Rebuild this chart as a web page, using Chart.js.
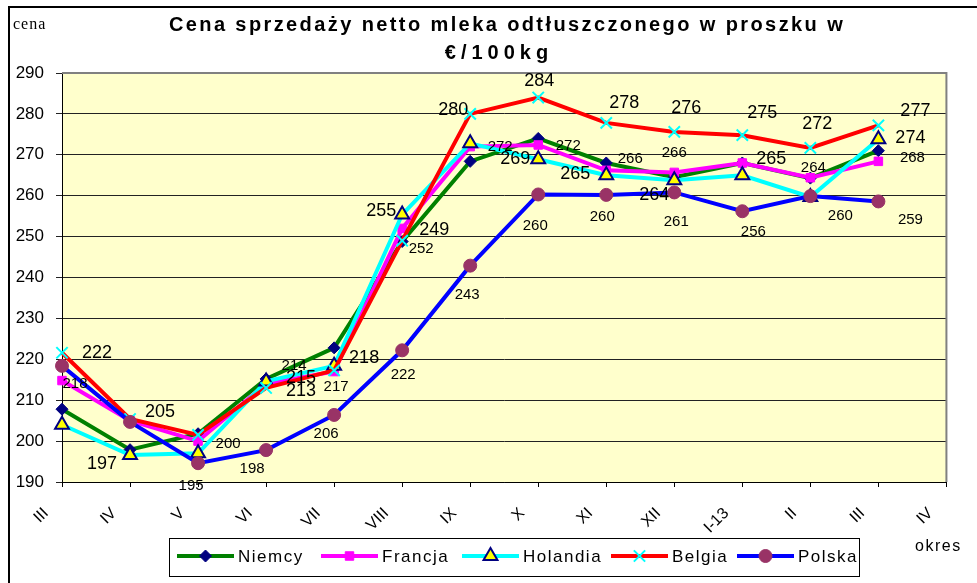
<!DOCTYPE html>
<html>
<head>
<meta charset="utf-8">
<script src="https://cdn.jsdelivr.net/npm/chart.js@4.4.0/dist/chart.umd.min.js"></script>
<style>
  html, body { margin: 0; padding: 0; background: #fff; }
  #wrap { width: 977px; height: 583px; position: relative; }
</style>
</head>
<body>
<div id="wrap"><canvas id="wykres"></canvas></div>
<script>
var okresy   = ['III', 'IV', 'V', 'VI', 'VII', 'VIII', 'IX', 'X', 'XI', 'XII', 'I-13', 'II', 'III', 'IV'];
var niemcy   = [207.8, 197.9, 201.8, 215.2, 222.8, 248.8, 268.4, 274.0, 268.0, 264.5, 268.0, 264.3, 271.0];
var francja  = [214.8, 205.0, 200.0, 214.0, 217.0, 252.0, 272.0, 272.4, 266.2, 265.7, 268.0, 264.4, 268.4];
var holandia = [204.0, 196.6, 197.0, 214.6, 218.4, 255.4, 272.8, 268.9, 265.0, 263.8, 265.0, 259.7, 273.8];
var belgia   = [221.6, 205.4, 201.5, 213.0, 217.3, 249.0, 280.0, 284.0, 277.8, 275.6, 274.8, 271.7, 277.2];
var polska   = [218.4, 204.7, 194.6, 197.8, 206.4, 222.2, 242.9, 260.3, 260.2, 260.8, 256.2, 259.9, 258.6];

var tytul = ['Cena sprzedaży netto mleka odtłuszczonego w proszku w', '€/100kg'];
var FONT = '"Liberation Sans", Arial, sans-serif';

// which values get a label: [series, point, dx, dy, big font]
var etykiety = [
    [3, 0, 35, 0, 1], [3, 1, 30, -7, 1], [3, 3, 35, 3, 1], [3, 5, 32, -11, 1], [3, 6, -17, -4, 1],
    [3, 7, 1, -17, 1], [3, 8, 18, -20, 1], [3, 9, 12, -24, 1], [3, 10, 20, -22, 1], [3, 11, 7, -24, 1],
    [3, 12, 37, -14, 1],
    [2, 1, -28, 9, 1], [2, 3, 35, -3, 1], [2, 4, 30, -8, 1], [2, 5, -21, -3, 1], [2, 7, -23, 0, 1],
    [2, 8, -31, -1, 1], [2, 9, -20, 15, 1], [2, 10, 29, -16, 1], [2, 12, 32, -1, 1],
    [1, 2, 30, 3, 0], [1, 3, 28, -18, 0], [1, 4, 2, 15, 0], [1, 5, 19, 20, 0], [1, 6, 30, 0, 0],
    [1, 7, 30, 1, 0], [1, 8, 24, -11, 0], [1, 9, 0, -20, 0], [1, 11, 3, -10, 0], [1, 12, 34, -3, 0],
    [4, 0, 13, 18, 0], [4, 2, -7, 23, 0], [4, 3, -14, 19, 0], [4, 4, -8, 19, 0], [4, 5, 1, 25, 0],
    [4, 6, -3, 29, 0], [4, 7, -3, 31, 0], [4, 8, -4, 22, 0], [4, 9, 2, 29, 0], [4, 10, 11, 21, 0],
    [4, 11, 30, 20, 0], [4, 12, 32, 18, 0]
];

var legendaX = [177, 321, 462, 611, 737];

function seria(nazwa, dane, linia, styl, r, wypelnienie, obrys, grubosc, kolejnosc) {
    return {
        label: nazwa,
        data: dane,
        borderColor: linia,
        borderWidth: 4,
        pointStyle: styl,
        pointRadius: r,
        pointHoverRadius: r,
        pointBackgroundColor: wypelnienie,
        pointBorderColor: obrys,
        pointBorderWidth: grubosc,
        tension: 0,
        fill: false,
        order: kolejnosc
    };
}

var dodatki = {
    id: 'dodatki',
    beforeDraw: function (chart) {
        var ctx = chart.ctx, a = chart.chartArea;
        ctx.save();
        ctx.fillStyle = '#fff';
        ctx.fillRect(0, 0, chart.width, chart.height);
        ctx.fillStyle = '#FFFFCC';
        ctx.fillRect(a.left, a.top, a.right - a.left, a.bottom - a.top);
        ctx.restore();
    },
    beforeDatasetsDraw: function (chart) {
        var ctx = chart.ctx, a = chart.chartArea;
        ctx.save();
        ctx.strokeStyle = '#808080';
        ctx.lineWidth = 2;
        ctx.beginPath();
        ctx.moveTo(a.left, a.top);
        ctx.lineTo(a.right, a.top);
        ctx.lineTo(a.right, a.bottom);
        ctx.stroke();
        ctx.restore();
    },
    afterDatasetsDraw: function (chart) {
        var ctx = chart.ctx;
        ctx.save();
        ctx.fillStyle = '#000';
        ctx.textAlign = 'center';
        ctx.textBaseline = 'middle';
        for (var i = 0; i < etykiety.length; i++) {
            var e = etykiety[i];
            var pkt = chart.getDatasetMeta(e[0]).data[e[1]];
            var wartosc = chart.data.datasets[e[0]].data[e[1]];
            ctx.font = (e[4] ? '18px ' : '15px ') + FONT;
            ctx.fillText(Math.round(wartosc), pkt.x + e[2], pkt.y + e[3]);
        }
        ctx.restore();
    },
    afterDraw: function (chart) {
        var ctx = chart.ctx;
        ctx.save();
        // outer frame (left and top only)
        ctx.strokeStyle = '#000';
        ctx.lineWidth = 2;
        ctx.beginPath();
        ctx.moveTo(9, chart.height);
        ctx.lineTo(9, 7);
        ctx.lineTo(chart.width, 7);
        ctx.stroke();

        ctx.fillStyle = '#000';
        ctx.textBaseline = 'middle';
        ctx.textAlign = 'center';
        ctx.font = 'bold 20px ' + FONT;
        ctx.letterSpacing = '2.4px';
        ctx.fillText(tytul[0], 507, 25);
        ctx.letterSpacing = '5px';
        ctx.fillText(tytul[1], 499, 53);

        ctx.textAlign = 'left';
        ctx.letterSpacing = '1px';
        ctx.font = '16px "Liberation Serif", "Times New Roman", serif';
        ctx.fillText('cena', 13, 25);
        ctx.font = '16px ' + FONT;
        ctx.letterSpacing = '1.5px';
        ctx.fillText('okres', 915, 547);

        // legend
        ctx.lineWidth = 1;
        ctx.strokeStyle = '#000';
        ctx.strokeRect(169.5, 538.5, 690, 38);
        ctx.font = '17px ' + FONT;
        var ds = chart.data.datasets;
        for (var i = 0; i < ds.length; i++) {
            var x0 = legendaX[i], y = 556;
            ctx.strokeStyle = ds[i].borderColor;
            ctx.lineWidth = 4;
            ctx.beginPath();
            ctx.moveTo(x0, y);
            ctx.lineTo(x0 + 57, y);
            ctx.stroke();
            ctx.fillStyle = ds[i].pointBackgroundColor;
            ctx.strokeStyle = ds[i].pointBorderColor;
            ctx.lineWidth = ds[i].pointBorderWidth;
            Chart.helpers.drawPoint(ctx, {
                pointStyle: ds[i].pointStyle,
                radius: ds[i].pointRadius,
                borderWidth: ds[i].pointBorderWidth,
                rotation: 0
            }, x0 + 28.5, y);
            ctx.fillStyle = '#000';
            ctx.fillText(ds[i].label, x0 + 61, y + 1);
        }
        ctx.restore();
    }
};

new Chart(document.getElementById('wykres'), {
    type: 'line',
    data: {
        labels: okresy,
        datasets: [
            seria('Niemcy', niemcy, '#008000', 'rectRot', 6, '#000080', '#000080', 1, 5),
            seria('Francja', francja, '#FF00FF', 'rect', 6, '#FF00FF', '#FF00FF', 1, 4),
            seria('Holandia', holandia, '#00FFFF', 'triangle', 8, '#FFFF00', '#000080', 2, 3),
            seria('Belgia', belgia, '#FF0000', 'crossRot', 8, '#00FFFF', '#00FFFF', 2, 2),
            seria('Polska', polska, '#0000FF', 'circle', 6.5, '#993366', '#993366', 1, 1)
        ]
    },
    options: {
        responsive: true,
        maintainAspectRatio: false,
        animation: false,
        devicePixelRatio: 1,
        layout: { padding: { top: 73, right: 26, bottom: 0, left: 0 } },
        plugins: {
            legend: { display: false },
            title: { display: false },
            tooltip: { enabled: false }
        },
        scales: {
            x: {
                offset: false,
                grid: { display: true, drawOnChartArea: false, drawTicks: true, tickLength: 5, color: '#000' },
                border: { color: '#000', width: 1 },
                ticks: {
                    autoSkip: false, minRotation: 45, maxRotation: 45,
                    padding: 17, labelOffset: -16,
                    color: '#000', font: { family: FONT, size: 16 }
                },
                afterFit: function (s) { s.height = 101; }
            },
            y: {
                min: 190,
                max: 290,
                grid: { color: '#222', lineWidth: 1, drawTicks: true, tickLength: 6 },
                border: { color: '#000', width: 1 },
                ticks: {
                    stepSize: 10, padding: 12,
                    color: '#000', font: { family: FONT, size: 17 }
                },
                afterFit: function (s) { s.width = 62; }
            }
        }
    },
    plugins: [dodatki]
});
</script>
</body>
</html>
